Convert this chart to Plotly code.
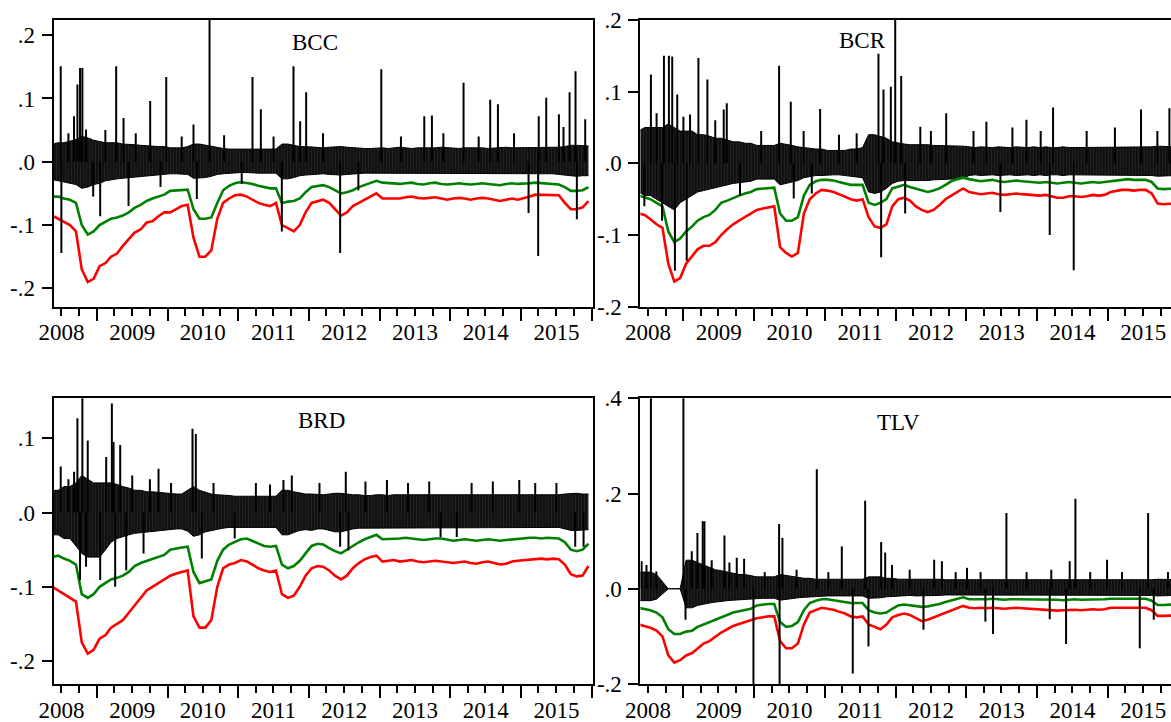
import pandas as pd
import plotly.graph_objects as go

W, H = 1171, 722

# monthly sampling dates (mid-month), May 2008 .. Dec 2015
months = pd.date_range("2008-05-01", "2015-12-01", freq="MS") + pd.Timedelta(days=14)

# ---------------- BCC ----------------
bcc_green = [
    -0.055, -0.055, -0.058, -0.060, -0.065, -0.100, -0.115, -0.110,
    -0.100, -0.095, -0.090, -0.088, -0.085, -0.080, -0.073, -0.068, -0.062, -0.058, -0.055, -0.052,
    -0.046, -0.045, -0.044, -0.044, -0.075, -0.090, -0.090, -0.088, -0.065, -0.045, -0.038, -0.034,
    -0.032, -0.033, -0.035, -0.038, -0.040, -0.042, -0.042, -0.065, -0.063, -0.062, -0.058, -0.048,
    -0.040, -0.038, -0.037, -0.040, -0.045, -0.050, -0.048, -0.045, -0.040, -0.037, -0.034, -0.030,
    -0.033, -0.034, -0.035, -0.035, -0.034, -0.033, -0.035, -0.036, -0.034, -0.033, -0.035, -0.036,
    -0.035, -0.034, -0.035, -0.036, -0.035, -0.034, -0.035, -0.036, -0.037, -0.035, -0.034, -0.035,
    -0.035, -0.034, -0.033, -0.034, -0.035, -0.035, -0.036, -0.040, -0.046, -0.046, -0.045, -0.040,
]
bcc_red = [
    -0.085, -0.090, -0.095, -0.100, -0.110, -0.170, -0.190, -0.185,
    -0.165, -0.160, -0.150, -0.145, -0.133, -0.123, -0.112, -0.107, -0.096, -0.094, -0.086, -0.080,
    -0.080, -0.075, -0.070, -0.068, -0.120, -0.150, -0.150, -0.140, -0.090, -0.065, -0.058, -0.053,
    -0.052, -0.055, -0.060, -0.065, -0.068, -0.070, -0.065, -0.100, -0.105, -0.110, -0.100, -0.080,
    -0.065, -0.062, -0.060, -0.065, -0.075, -0.085, -0.080, -0.070, -0.065, -0.060, -0.055, -0.050,
    -0.058, -0.058, -0.057, -0.058, -0.056, -0.055, -0.057, -0.058, -0.057, -0.056, -0.058, -0.060,
    -0.058, -0.057, -0.058, -0.060, -0.058, -0.057, -0.058, -0.060, -0.062, -0.060, -0.058, -0.060,
    -0.058, -0.055, -0.052, -0.052, -0.053, -0.052, -0.053, -0.065, -0.075, -0.075, -0.072, -0.062,
]
bcc_hi = [
    0.028, 0.030, 0.030, 0.032, 0.035, 0.040, 0.038, 0.034,
    0.032, 0.030, 0.030, 0.030, 0.028, 0.028, 0.027, 0.026, 0.025, 0.025, 0.024, 0.024,
    0.022, 0.022, 0.022, 0.024, 0.028, 0.028, 0.026, 0.024, 0.022, 0.021, 0.020, 0.020,
    0.020, 0.020, 0.021, 0.021, 0.021, 0.020, 0.020, 0.028, 0.028, 0.026, 0.024, 0.024,
    0.023, 0.022, 0.022, 0.023, 0.024, 0.024, 0.023, 0.022, 0.022, 0.021, 0.021, 0.022,
    0.022, 0.021, 0.022, 0.023, 0.022, 0.021, 0.022, 0.022, 0.021, 0.022, 0.023, 0.022,
    0.022, 0.021, 0.022, 0.022, 0.023, 0.022, 0.021, 0.022, 0.022, 0.023, 0.022, 0.022,
    0.023, 0.022, 0.022, 0.023, 0.022, 0.022, 0.023, 0.024, 0.026, 0.026, 0.025, 0.025,
]
bcc_lo = [
    -0.028, -0.030, -0.032, -0.034, -0.036, -0.042, -0.040, -0.036,
    -0.034, -0.030, -0.028, -0.027, -0.026, -0.025, -0.024, -0.023, -0.022, -0.022, -0.021, -0.020,
    -0.019, -0.019, -0.019, -0.020, -0.026, -0.026, -0.025, -0.023, -0.020, -0.019, -0.018, -0.018,
    -0.017, -0.017, -0.018, -0.018, -0.018, -0.018, -0.018, -0.027, -0.027, -0.025, -0.022, -0.021,
    -0.020, -0.019, -0.019, -0.020, -0.021, -0.021, -0.020, -0.019, -0.019, -0.018, -0.018, -0.018,
    -0.018, -0.018, -0.019, -0.019, -0.018, -0.018, -0.019, -0.019, -0.018, -0.018, -0.019, -0.019,
    -0.019, -0.018, -0.018, -0.019, -0.019, -0.018, -0.018, -0.019, -0.019, -0.019, -0.018, -0.019,
    -0.019, -0.019, -0.018, -0.019, -0.019, -0.019, -0.020, -0.021, -0.023, -0.023, -0.022, -0.022,
]
bcc_spike_yr = [2008.491, 2008.50, 2008.679, 2008.727, 2008.764, 2008.797, 2008.849, 2009.047,
                2009.273, 2009.377, 2009.448, 2009.754, 2009.981, 2010.367, 2010.414, 2010.594,
                2011.202, 2011.32, 2011.617, 2011.782, 2011.876, 2011.961, 2012.442, 2013.022,
                2013.63, 2013.738, 2014.186, 2014.563, 2014.672, 2015.106, 2015.242, 2015.25,
                2015.356, 2015.535, 2015.686, 2015.77, 2015.789, 2015.907,
                2008.60, 2008.95, 2009.12, 2009.55, 2009.90, 2010.20, 2010.80, 2011.05, 2011.50,
                2012.20, 2012.70, 2013.30, 2013.90, 2014.40, 2014.90, 2015.60]
bcc_spike_val = [0.151, -0.144, 0.072, 0.122, 0.148, 0.148, 0.051, -0.086,
                 0.151, 0.069, -0.070, 0.096, 0.134, 0.059, -0.059, 0.26,
                 0.134, 0.083, -0.110, 0.151, 0.064, 0.110, -0.144, 0.146,
                 0.072, 0.073, 0.125, 0.098, 0.091, -0.081, -0.149, 0.072,
                 0.101, 0.075, 0.110, 0.143, -0.091, 0.067,
                 0.045, -0.055, 0.050, 0.045, -0.040, 0.040, 0.042, -0.035, 0.040,
                 0.045, -0.045, 0.040, 0.045, 0.040, 0.045, 0.055]

# ---------------- BCR ----------------
bcr_green = [
    -0.045, -0.047, -0.050, -0.055, -0.060, -0.095, -0.110, -0.105,
    -0.095, -0.088, -0.080, -0.075, -0.072, -0.065, -0.055, -0.052, -0.048, -0.045, -0.042, -0.040,
    -0.036, -0.035, -0.035, -0.034, -0.070, -0.080, -0.080, -0.075, -0.045, -0.030, -0.025, -0.023,
    -0.023, -0.024, -0.026, -0.028, -0.030, -0.030, -0.030, -0.055, -0.058, -0.055, -0.050, -0.035,
    -0.032, -0.030, -0.033, -0.035, -0.038, -0.040, -0.038, -0.035, -0.030, -0.025, -0.022, -0.020,
    -0.022, -0.024, -0.025, -0.024, -0.023, -0.025, -0.026, -0.025, -0.024, -0.025, -0.026, -0.026,
    -0.027, -0.026, -0.027, -0.028, -0.027, -0.026, -0.027, -0.028, -0.027, -0.026, -0.027, -0.026,
    -0.024, -0.023, -0.023, -0.022, -0.023, -0.023, -0.023, -0.026, -0.035, -0.036, -0.035, -0.035,
]
bcr_red = [
    -0.070, -0.072, -0.078, -0.085, -0.090, -0.140, -0.165, -0.160,
    -0.140, -0.130, -0.120, -0.115, -0.115, -0.110, -0.100, -0.092, -0.085, -0.080, -0.075, -0.070,
    -0.065, -0.063, -0.062, -0.060, -0.117, -0.125, -0.130, -0.125, -0.070, -0.050, -0.042, -0.037,
    -0.038, -0.040, -0.043, -0.047, -0.050, -0.052, -0.050, -0.075, -0.088, -0.090, -0.085, -0.060,
    -0.050, -0.048, -0.052, -0.060, -0.065, -0.068, -0.065, -0.058, -0.050, -0.045, -0.040, -0.035,
    -0.040, -0.042, -0.043, -0.042, -0.041, -0.043, -0.044, -0.043, -0.042, -0.043, -0.044, -0.044,
    -0.045, -0.044, -0.046, -0.048, -0.048, -0.046, -0.046, -0.047, -0.046, -0.044, -0.045, -0.044,
    -0.040, -0.038, -0.037, -0.037, -0.038, -0.037, -0.037, -0.042, -0.056, -0.057, -0.056, -0.056,
]
bcr_hi = [
    0.045, 0.050, 0.050, 0.050, 0.050, 0.055, 0.050, 0.045,
    0.045, 0.045, 0.040, 0.040, 0.038, 0.035, 0.035, 0.033, 0.030, 0.030, 0.028, 0.028,
    0.025, 0.025, 0.025, 0.025, 0.028, 0.027, 0.025, 0.023, 0.022, 0.020, 0.020, 0.020,
    0.018, 0.018, 0.018, 0.018, 0.020, 0.020, 0.022, 0.040, 0.040, 0.038, 0.035, 0.030,
    0.028, 0.027, 0.026, 0.026, 0.027, 0.026, 0.025, 0.025, 0.025, 0.024, 0.024, 0.024,
    0.023, 0.022, 0.023, 0.022, 0.022, 0.023, 0.022, 0.022, 0.023, 0.022, 0.022, 0.023,
    0.022, 0.023, 0.022, 0.022, 0.023, 0.022, 0.022, 0.023, 0.022, 0.022, 0.023, 0.022,
    0.023, 0.022, 0.022, 0.023, 0.022, 0.022, 0.023, 0.023, 0.024, 0.024, 0.023, 0.023,
]
bcr_lo = [
    -0.040, -0.045, -0.045, -0.050, -0.055, -0.060, -0.065, -0.055,
    -0.050, -0.045, -0.040, -0.038, -0.036, -0.034, -0.032, -0.030, -0.028, -0.027, -0.026, -0.025,
    -0.022, -0.022, -0.022, -0.022, -0.030, -0.028, -0.026, -0.024, -0.020, -0.018, -0.017, -0.017,
    -0.016, -0.016, -0.016, -0.017, -0.018, -0.018, -0.020, -0.040, -0.042, -0.040, -0.035, -0.028,
    -0.025, -0.024, -0.024, -0.024, -0.025, -0.024, -0.023, -0.023, -0.022, -0.022, -0.021, -0.021,
    -0.017, -0.016, -0.017, -0.016, -0.016, -0.017, -0.016, -0.016, -0.017, -0.016, -0.016, -0.017,
    -0.016, -0.017, -0.016, -0.016, -0.017, -0.016, -0.016, -0.017, -0.016, -0.016, -0.017, -0.016,
    -0.017, -0.016, -0.016, -0.017, -0.016, -0.016, -0.017, -0.017, -0.018, -0.018, -0.017, -0.017,
]
bcr_spike_yr = [2008.543, 2008.623, 2008.727, 2008.797, 2008.844, 2008.915, 2008.882, 2009.047,
                2009.094, 2009.212, 2009.339, 2009.613, 2009.57, 2010.353, 2010.518, 2010.933,
                2010.56, 2010.815, 2011.45, 2011.758, 2011.796, 2011.829, 2011.933, 2011.995,
                2012.08, 2012.136, 2012.35, 2012.716, 2013.282, 2013.48, 2013.848, 2014.178,
                2014.225, 2014.517, 2015.469, 2015.87,
                2008.45, 2008.70, 2009.00, 2009.45, 2009.80, 2010.10, 2010.70, 2011.20, 2012.50,
                2013.10, 2013.65, 2014.05, 2014.70, 2015.10, 2015.70]
bcr_spike_val = [0.124, 0.070, 0.150, 0.150, 0.149, 0.096, -0.150, -0.136,
                 0.068, 0.147, 0.117, 0.084, 0.075, 0.136, 0.086, 0.076,
                 -0.049, -0.042, 0.042, 0.153, -0.131, 0.103, 0.107, 0.25,
                 0.122, -0.070, 0.051, 0.070, 0.058, -0.068, 0.061, -0.100,
                 0.078, -0.149, 0.075, 0.077,
                 -0.060, -0.080, 0.065, 0.060, -0.045, 0.045, 0.045, 0.040, 0.045,
                 0.045, 0.050, 0.045, 0.045, 0.050, 0.045]

# ---------------- BRD ----------------
brd_green = [
    -0.060, -0.058, -0.062, -0.065, -0.070, -0.110, -0.115, -0.110,
    -0.100, -0.095, -0.090, -0.088, -0.085, -0.080, -0.072, -0.068, -0.065, -0.062, -0.060, -0.057,
    -0.050, -0.048, -0.047, -0.046, -0.080, -0.095, -0.093, -0.090, -0.065, -0.050, -0.043, -0.040,
    -0.036, -0.035, -0.038, -0.042, -0.045, -0.046, -0.045, -0.070, -0.075, -0.072, -0.065, -0.055,
    -0.045, -0.042, -0.043, -0.048, -0.052, -0.055, -0.050, -0.045, -0.040, -0.036, -0.033, -0.030,
    -0.036, -0.036, -0.035, -0.035, -0.034, -0.035, -0.036, -0.037, -0.036, -0.035, -0.035, -0.036,
    -0.038, -0.037, -0.036, -0.037, -0.038, -0.037, -0.036, -0.037, -0.038, -0.037, -0.036, -0.036,
    -0.035, -0.034, -0.034, -0.035, -0.034, -0.034, -0.035, -0.040, -0.050, -0.052, -0.050, -0.042,
]
brd_red = [
    -0.100, -0.105, -0.110, -0.115, -0.120, -0.175, -0.190, -0.185,
    -0.170, -0.165, -0.155, -0.150, -0.145, -0.135, -0.125, -0.115, -0.105, -0.100, -0.095, -0.090,
    -0.085, -0.082, -0.080, -0.078, -0.140, -0.155, -0.155, -0.145, -0.100, -0.075, -0.070, -0.068,
    -0.064, -0.066, -0.070, -0.075, -0.078, -0.080, -0.078, -0.110, -0.115, -0.112, -0.100, -0.085,
    -0.075, -0.072, -0.073, -0.078, -0.085, -0.090, -0.085, -0.075, -0.068, -0.063, -0.060, -0.058,
    -0.066, -0.065, -0.064, -0.066, -0.065, -0.064, -0.066, -0.067, -0.066, -0.065, -0.066, -0.067,
    -0.068, -0.067, -0.066, -0.068, -0.069, -0.067, -0.066, -0.068, -0.070, -0.069, -0.066, -0.065,
    -0.064, -0.063, -0.062, -0.062, -0.063, -0.062, -0.063, -0.070, -0.083, -0.086, -0.085, -0.072,
]
brd_hi = [
    0.030, 0.030, 0.035, 0.035, 0.040, 0.050, 0.045, 0.040,
    0.040, 0.040, 0.040, 0.038, 0.035, 0.033, 0.030, 0.030, 0.028, 0.028, 0.027, 0.027,
    0.025, 0.025, 0.025, 0.030, 0.035, 0.030, 0.028, 0.025, 0.024, 0.024, 0.023, 0.022,
    0.022, 0.022, 0.022, 0.022, 0.022, 0.022, 0.022, 0.030, 0.030, 0.028, 0.026, 0.025,
    0.025, 0.024, 0.024, 0.025, 0.026, 0.026, 0.025, 0.024, 0.024, 0.023, 0.023, 0.024,
    0.024, 0.023, 0.024, 0.024, 0.023, 0.024, 0.024, 0.023, 0.024, 0.024, 0.023, 0.024,
    0.024, 0.023, 0.024, 0.024, 0.023, 0.024, 0.024, 0.023, 0.024, 0.024, 0.023, 0.024,
    0.024, 0.023, 0.024, 0.024, 0.023, 0.024, 0.024, 0.025, 0.026, 0.026, 0.025, 0.025,
]
brd_lo = [
    -0.030, -0.030, -0.035, -0.035, -0.045, -0.055, -0.060, -0.060,
    -0.060, -0.050, -0.040, -0.035, -0.032, -0.030, -0.028, -0.027, -0.026, -0.025, -0.024, -0.024,
    -0.022, -0.022, -0.022, -0.025, -0.032, -0.030, -0.026, -0.024, -0.022, -0.021, -0.020, -0.020,
    -0.020, -0.020, -0.020, -0.020, -0.020, -0.020, -0.020, -0.030, -0.030, -0.027, -0.024, -0.023,
    -0.024, -0.022, -0.022, -0.024, -0.026, -0.026, -0.024, -0.022, -0.021, -0.021, -0.020, -0.020,
    -0.020, -0.020, -0.020, -0.020, -0.020, -0.020, -0.020, -0.020, -0.020, -0.020, -0.020, -0.020,
    -0.020, -0.020, -0.020, -0.020, -0.020, -0.020, -0.020, -0.020, -0.020, -0.020, -0.020, -0.020,
    -0.020, -0.020, -0.020, -0.020, -0.020, -0.020, -0.020, -0.022, -0.024, -0.024, -0.023, -0.023,
]
brd_spike_yr = [2008.491, 2008.727, 2008.797, 2008.873, 2008.764, 2008.849, 2009.047, 2009.132,
                2009.212, 2009.236, 2009.259, 2009.33, 2009.415, 2009.66, 2009.872, 2010.353,
                2010.40, 2010.485, 2011.64, 2011.758, 2012.442, 2012.522, 2012.56, 2013.102,
                2013.86, 2014.09, 2014.974, 2015.766, 2015.884,
                2008.60, 2008.68, 2009.50, 2009.75, 2010.05, 2010.65, 2010.95, 2011.25, 2011.45,
                2012.15, 2012.80, 2013.40, 2013.70, 2014.30, 2014.60, 2015.20, 2015.50]
brd_spike_val = [0.062, 0.127, 0.20, 0.097, -0.091, -0.073, -0.091, 0.075,
                 0.147, 0.095, -0.100, 0.091, -0.078, -0.055, 0.059, 0.113,
                 0.106, -0.062, 0.044, 0.050, -0.046, 0.055, -0.051, 0.044,
                 -0.033, -0.033, 0.044, -0.046, -0.046,
                 0.045, 0.055, 0.050, 0.045, 0.040, 0.040, -0.035, 0.040, 0.038,
                 0.040, 0.042, 0.040, 0.042, 0.040, 0.042, 0.040, 0.040]

# ---------------- TLV ----------------
tlv_green = [
    -0.040, -0.042, -0.045, -0.050, -0.060, -0.085, -0.095, -0.095,
    -0.090, -0.088, -0.080, -0.075, -0.070, -0.065, -0.060, -0.055, -0.050, -0.047, -0.044, -0.042,
    -0.035, -0.033, -0.032, -0.032, -0.070, -0.080, -0.078, -0.070, -0.045, -0.030, -0.025, -0.022,
    -0.022, -0.024, -0.026, -0.028, -0.030, -0.030, -0.030, -0.045, -0.050, -0.052, -0.050, -0.042,
    -0.035, -0.033, -0.035, -0.037, -0.038, -0.037, -0.035, -0.032, -0.028, -0.025, -0.022, -0.018,
    -0.022, -0.022, -0.023, -0.022, -0.021, -0.022, -0.023, -0.022, -0.022, -0.023, -0.022, -0.022,
    -0.023, -0.023, -0.022, -0.023, -0.024, -0.023, -0.022, -0.023, -0.023, -0.022, -0.023, -0.022,
    -0.021, -0.021, -0.022, -0.021, -0.021, -0.022, -0.021, -0.025, -0.034, -0.034, -0.034, -0.033,
]
tlv_red = [
    -0.075, -0.078, -0.082, -0.088, -0.100, -0.140, -0.155, -0.150,
    -0.140, -0.135, -0.125, -0.115, -0.110, -0.100, -0.092, -0.085, -0.078, -0.074, -0.070, -0.066,
    -0.062, -0.060, -0.058, -0.058, -0.110, -0.125, -0.125, -0.115, -0.075, -0.050, -0.045, -0.040,
    -0.042, -0.044, -0.048, -0.052, -0.058, -0.060, -0.058, -0.075, -0.080, -0.085, -0.075, -0.060,
    -0.055, -0.052, -0.055, -0.062, -0.068, -0.065, -0.060, -0.055, -0.050, -0.045, -0.040, -0.036,
    -0.040, -0.041, -0.040, -0.041, -0.040, -0.041, -0.042, -0.041, -0.040, -0.041, -0.042, -0.042,
    -0.044, -0.044, -0.045, -0.046, -0.045, -0.044, -0.044, -0.045, -0.044, -0.043, -0.044, -0.043,
    -0.040, -0.040, -0.041, -0.040, -0.040, -0.041, -0.040, -0.045, -0.057, -0.057, -0.056, -0.056,
]
tlv_hi = [
    0.035, 0.035, 0.035, 0.030, 0.015, 0.000, 0.000, 0.000,
    0.060, 0.060, 0.055, 0.050, 0.045, 0.040, 0.038, 0.035, 0.033, 0.030, 0.030, 0.028,
    0.025, 0.025, 0.025, 0.025, 0.030, 0.028, 0.026, 0.024, 0.022, 0.022, 0.020, 0.020,
    0.020, 0.020, 0.020, 0.020, 0.020, 0.020, 0.020, 0.025, 0.025, 0.025, 0.022, 0.022,
    0.020, 0.020, 0.020, 0.020, 0.021, 0.021, 0.020, 0.020, 0.019, 0.019, 0.019, 0.019,
    0.019, 0.018, 0.019, 0.019, 0.018, 0.019, 0.019, 0.018, 0.019, 0.019, 0.018, 0.019,
    0.019, 0.018, 0.019, 0.019, 0.018, 0.019, 0.019, 0.018, 0.019, 0.019, 0.018, 0.019,
    0.019, 0.018, 0.019, 0.019, 0.018, 0.019, 0.019, 0.019, 0.020, 0.020, 0.019, 0.019,
]
tlv_lo = [
    -0.025, -0.025, -0.025, -0.022, -0.010, 0.000, 0.000, 0.000,
    -0.040, -0.040, -0.035, -0.032, -0.030, -0.028, -0.026, -0.025, -0.024, -0.023, -0.022, -0.022,
    -0.020, -0.020, -0.020, -0.020, -0.024, -0.022, -0.020, -0.019, -0.018, -0.017, -0.016, -0.016,
    -0.015, -0.015, -0.015, -0.015, -0.015, -0.015, -0.015, -0.020, -0.020, -0.019, -0.017, -0.016,
    -0.015, -0.014, -0.014, -0.015, -0.015, -0.015, -0.014, -0.014, -0.013, -0.013, -0.013, -0.013,
    -0.013, -0.013, -0.013, -0.013, -0.013, -0.013, -0.013, -0.013, -0.013, -0.013, -0.013, -0.013,
    -0.013, -0.013, -0.013, -0.013, -0.013, -0.013, -0.013, -0.013, -0.013, -0.013, -0.013, -0.013,
    -0.013, -0.013, -0.013, -0.013, -0.013, -0.013, -0.013, -0.014, -0.015, -0.015, -0.014, -0.014,
]
tlv_spike_yr = [2008.411, 2008.543, 2008.62, 2009.0, 2009.03, 2009.118, 2009.198, 2009.273,
                2009.297, 2009.58, 2009.754, 2009.858, 2009.99, 2010.353, 2010.36, 2010.40,
                2010.886, 2011.24, 2011.395, 2011.57, 2011.617, 2011.796, 2011.853, 2012.395,
                2012.546, 2012.655, 2013.008, 2013.268, 2013.376, 2013.565, 2014.178, 2014.409,
                2014.46, 2014.541, 2014.988, 2015.451, 2015.569, 2015.649,
                2008.48, 2009.40, 2009.65, 2010.15, 2010.60, 2011.05, 2011.95, 2012.20, 2012.85,
                2013.20, 2013.85, 2014.20, 2014.75, 2015.20, 2015.85]
tlv_spike_val = [0.058, 0.45, 0.036, 0.45, -0.065, 0.079, 0.117, 0.142,
                 0.142, 0.112, 0.065, 0.063, -0.25, 0.136, -0.25, 0.107,
                 0.251, 0.089, -0.178, 0.185, -0.121, 0.098, 0.076, -0.086,
                 0.061, 0.058, 0.044, -0.069, -0.095, 0.159, -0.064, -0.116,
                 0.058, 0.189, 0.061, -0.125, 0.159, -0.065,
                 0.050, 0.060, 0.055, 0.035, 0.040, 0.035, 0.050, 0.040, 0.035,
                 0.035, 0.035, 0.040, 0.035, 0.035, 0.035]

# ---------------- axis tick labels ----------------
ticks_01 = [-0.2, -0.1, 0.0, 0.1, 0.2]
ticks_01_text = ["-.2", "-.1", ".0", ".1", ".2"]
ticks_tlv = [-0.2, 0.0, 0.2, 0.4]
ticks_tlv_text = ["-.2", ".0", ".2", ".4"]


def yr2date(y):
    yi = int(y)
    return pd.Timestamp(yi, 1, 1) + pd.Timedelta(days=(y - yi) * 365.25)


LEFT = [53.5 / W, 592.7 / W]
RIGHT = [640.4 / W, 1.0]
TOP = [1 - 306.7 / H, 1 - 20 / H]
BOT = [1 - 684 / H, 1 - 398.3 / H]
XR_LEFT = ["2008-05-22", "2016-01-06"]
XR_RIGHT = ["2008-05-24", "2015-11-23"]

panels = [
    dict(name="BCC", g=bcc_green, r=bcc_red, hi=bcc_hi, lo=bcc_lo, sx=bcc_spike_yr, sy=bcc_spike_val,
         yrange=[-0.229, 0.224], tv=ticks_01, tt=ticks_01_text, xd=LEFT, yd=TOP, xr=XR_LEFT,
         right=False, tpos=(315, 43)),
    dict(name="BCR", g=bcr_green, r=bcr_red, hi=bcr_hi, lo=bcr_lo, sx=bcr_spike_yr, sy=bcr_spike_val,
         yrange=[-0.2, 0.2], tv=ticks_01, tt=ticks_01_text, xd=RIGHT, yd=TOP, xr=XR_RIGHT,
         right=True, tpos=(862, 40)),
    dict(name="BRD", g=brd_green, r=brd_red, hi=brd_hi, lo=brd_lo, sx=brd_spike_yr, sy=brd_spike_val,
         yrange=[-0.231, 0.154], tv=ticks_01, tt=ticks_01_text, xd=LEFT, yd=BOT, xr=XR_LEFT,
         right=False, tpos=(322, 420)),
    dict(name="TLV", g=tlv_green, r=tlv_red, hi=tlv_hi, lo=tlv_lo, sx=tlv_spike_yr, sy=tlv_spike_val,
         yrange=[-0.2, 0.4], tv=ticks_tlv, tt=ticks_tlv_text, xd=RIGHT, yd=BOT, xr=XR_RIGHT,
         right=True, tpos=(898, 423)),
]

FAMILY = "Liberation Serif"
FONT = dict(family=FAMILY, size=23, color="black")

fig = go.Figure()
layout = dict(template="none", width=W, height=H, margin=dict(l=0, r=0, t=0, b=0, pad=0),
              showlegend=False, paper_bgcolor="white", plot_bgcolor="white", font=FONT,
              annotations=[])

for i, p in enumerate(panels):
    k = "" if i == 0 else str(i + 1)
    xa, ya = "x" + k, "y" + k
    # dense band of daily returns
    fig.add_trace(go.Scatter(x=months, y=p["hi"], xaxis=xa, yaxis=ya, mode="lines",
                             line=dict(color="black", width=1), hoverinfo="skip"))
    fig.add_trace(go.Scatter(x=months, y=p["lo"], xaxis=xa, yaxis=ya, mode="lines",
                             line=dict(color="black", width=1), fill="tonexty",
                             fillpattern=dict(shape="|", size=3, solidity=0.8,
                                              fgcolor="black", bgcolor="#707070", fgopacity=1),
                             hoverinfo="skip"))
    # VaR lines
    fig.add_trace(go.Scatter(x=months, y=p["g"], xaxis=xa, yaxis=ya, mode="lines",
                             line=dict(color="#008000", width=2.6)))
    fig.add_trace(go.Scatter(x=months, y=p["r"], xaxis=xa, yaxis=ya, mode="lines",
                             line=dict(color="#ff0000", width=2.6)))
    # return spikes
    sxs, sys_ = [], []
    for yv, v in zip(p["sx"], p["sy"]):
        d = yr2date(yv)
        sxs += [d, d, None]
        sys_ += [0.0, v, None]
    fig.add_trace(go.Scatter(x=sxs, y=sys_, xaxis=xa, yaxis=ya, mode="lines",
                             line=dict(color="black", width=2), hoverinfo="skip"))

    layout["xaxis" + k] = dict(
        domain=p["xd"], anchor=ya, type="date", range=p["xr"], automargin=False,
        showline=True, linecolor="black", linewidth=2, mirror=True,
        ticks="outside", ticklen=12, tickwidth=1.6, tickcolor="black",
        dtick="M12", tick0="2008-01-01", tickformat="%Y", ticklabelmode="period",
        ticklabelstandoff=-8,
        minor=dict(dtick="M3", tick0="2008-01-01", ticks="outside", ticklen=7,
                   tickwidth=1.6, tickcolor="black", showgrid=False),
        showgrid=False, zeroline=False, tickfont=FONT)
    layout["yaxis" + k] = dict(
        domain=p["yd"], anchor=xa, range=p["yrange"], automargin=False,
        showline=True, linecolor="black", linewidth=2, mirror=not p["right"],
        ticks="outside", ticklen=10, tickwidth=1.6, tickcolor="black",
        tickvals=p["tv"], ticktext=p["tt"], ticklabelstandoff=2,
        showgrid=False, zeroline=False, tickfont=FONT)
    layout["annotations"].append(dict(text=p["name"], x=p["tpos"][0] / W, y=1 - p["tpos"][1] / H,
                                      xref="paper", yref="paper", showarrow=False,
                                      xanchor="center", yanchor="middle",
                                      font=dict(family=FAMILY, size=23, color="black")))

fig.update_layout(**layout)
fig.write_html("out.html")
